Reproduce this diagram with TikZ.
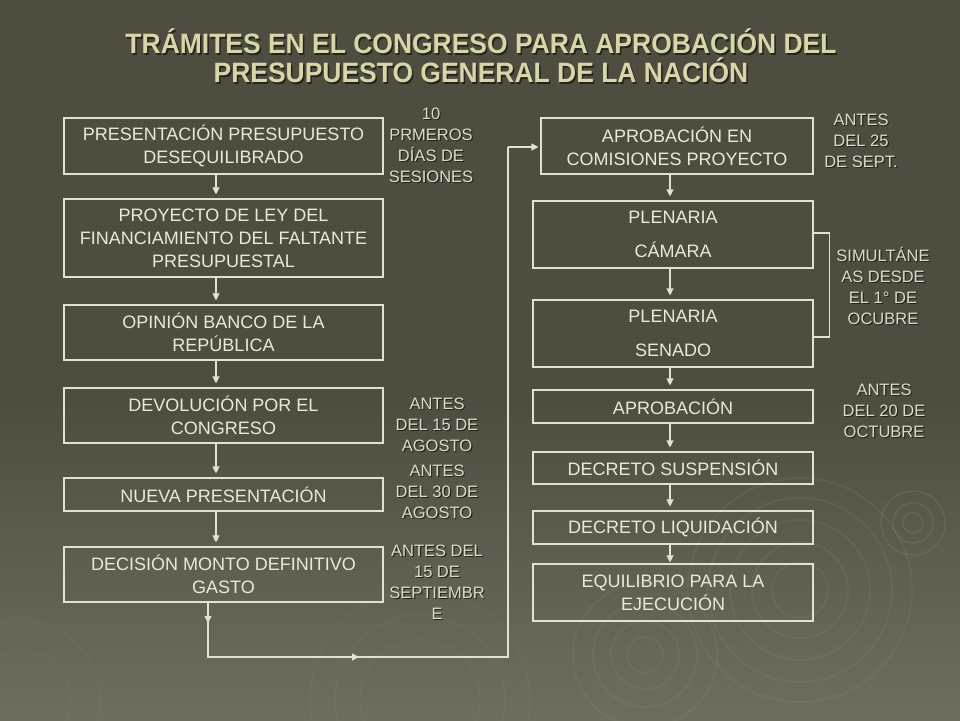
\documentclass[tikz,border=0pt]{standalone}
\usepackage{fontspec}
\setmainfont{Liberation Sans}
\usetikzlibrary{arrows.meta}
\definecolor{bgtop}{HTML}{4F4D40}
\definecolor{bgbot}{HTML}{6E6E60}
\definecolor{linec}{HTML}{E4E1D3}
\definecolor{boxtext}{HTML}{ECE9DB}
\definecolor{notec}{HTML}{DEDBC6}
\definecolor{titlec}{HTML}{D8D5A8}
\definecolor{shadowc}{HTML}{25241C}
\definecolor{ripple}{HTML}{9A9A8A}
\tikzset{
  box/.style={draw=linec, line width=1.1pt, text=boxtext, align=center, inner sep=0pt,
    font=\fontsize{18}{23}\selectfont},
  note/.style={text=notec, align=center, inner sep=0pt, font=\fontsize{16.5}{21}\selectfont},
  notesh/.style={note, text=shadowc, xshift=1.2pt, yshift=-1.2pt},
  conn/.style={draw=linec, line width=1.1pt},
  arr/.style={conn, -{Triangle[width=7pt,length=7pt]}, shorten >=4pt},
  rip/.style={draw=ripple, opacity=0.12, line width=2pt},
  ttl/.style={text=titlec, align=center, inner sep=0pt, font=\bfseries\fontsize{28}{29}\selectfont, xscale=0.945, transform shape},
}
\newcommand{\annot}[3]{%
  \node[notesh] (#2s) at (#1) {#3};
  \node[note] (#2) at (#1) {#3};}
\begin{document}
\begin{tikzpicture}[x=1pt,y=-1pt]
% background
\fill[bgtop] (0,0) rectangle (960,720);
\shade[top color=bgtop, bottom color=bgbot] (0,400) rectangle (960,720);
\begin{scope}
\clip (0,0) rectangle (960,720);
% ripples
\foreach \r in {28,48,70,92,112} \draw[rip] (800,590) circle (\r);
\foreach \r in {18,34,52,72} \draw[rip] (645,655) circle (\r);
\foreach \r in {10,20,32} \draw[rip, line width=1.5pt, opacity=0.18] (913,523) circle (\r);
\foreach \r in {60,85,110} \draw[rip, opacity=0.07] (420,700) circle (\r);
\foreach \r in {50,80} \draw[rip, opacity=0.07] (20,700) circle (\r);
\end{scope}
\useasboundingbox (0,0) rectangle (960,720);
% title
\node[ttl, text=shadowc] (titles) at (482.5,57.5) {TRÁMITES EN EL CONGRESO PARA APROBACIÓN DEL\\PRESUPUESTO GENERAL DE LA NACIÓN};
\node[ttl] (title) at (481,56) {TRÁMITES EN EL CONGRESO PARA APROBACIÓN DEL\\PRESUPUESTO GENERAL DE LA NACIÓN};
% left column
\node[box, minimum width=319pt, minimum height=56pt] (l1) at (223.5,146) {PRESENTACIÓN PRESUPUESTO\\DESEQUILIBRADO};
\node[box, minimum width=319pt, minimum height=78pt] (l2) at (223.5,238) {PROYECTO DE LEY DEL\\FINANCIAMIENTO DEL FALTANTE\\PRESUPUESTAL};
\node[box, minimum width=319pt, minimum height=55pt] (l3) at (223.5,332.5) {OPINIÓN BANCO DE LA\\REPÚBLICA};
\node[box, minimum width=319pt, minimum height=55pt] (l4) at (223.5,415.5) {DEVOLUCIÓN POR EL\\CONGRESO};
\node[box, minimum width=319pt, minimum height=33pt] (l5) at (223.5,494.5) {NUEVA PRESENTACIÓN};
\node[box, minimum width=319pt, minimum height=55pt] (l6) at (223.5,574.5) {DECISIÓN MONTO DEFINITIVO\\GASTO};
% right column
\node[box, minimum width=272pt, minimum height=56pt] (r1) at (677,146) {APROBACIÓN EN\\COMISIONES PROYECTO};
\node[box, minimum width=280pt, minimum height=67pt] (r2) at (673,234.5) {PLENARIA\\[11pt]CÁMARA};
\node[box, minimum width=280pt, minimum height=67pt] (r3) at (673,333.5) {PLENARIA\\[11pt]SENADO};
\node[box, minimum width=280pt, minimum height=33pt] (r4) at (673,406.5) {APROBACIÓN};
\node[box, minimum width=280pt, minimum height=32pt] (r5) at (673,468) {DECRETO SUSPENSIÓN};
\node[box, minimum width=280pt, minimum height=33pt] (r6) at (673,527.5) {DECRETO LIQUIDACIÓN};
\node[box, minimum width=280pt, minimum height=57pt] (r7) at (673,592.5) {EQUILIBRIO PARA LA\\EJECUCIÓN};
% annotations
\annot{431,145}{n1}{10\\PRMEROS\\DÍAS DE\\SESIONES}
\annot{861,141}{n2}{ANTES\\DEL 25\\DE SEPT.}
\annot{883,286}{n3}{SIMULTÁNE\\AS DESDE\\EL 1° DE\\OCUBRE}
\annot{884,411}{n4}{ANTES\\DEL 20 DE\\OCTUBRE}
\annot{437,425}{n5}{ANTES\\DEL 15 DE\\AGOSTO}
\annot{437,492}{n6}{ANTES\\DEL 30 DE\\AGOSTO}
\annot{437,582}{n7}{ANTES DEL\\15 DE\\SEPTIEMBR\\E}
% connectors
\coordinate (ax) at (216,0);
\coordinate (bx) at (670,0);
\draw[arr] (l1.south -| ax) -- (l2.north -| ax);
\draw[arr] (l2.south -| ax) -- (l3.north -| ax);
\draw[arr] (l3.south -| ax) -- (l4.north -| ax);
\draw[arr] (l4.south -| ax) -- (l5.north -| ax);
\draw[arr] (l5.south -| ax) -- (l6.north -| ax);
\draw[arr] (r1.south -| bx) -- (r2.north -| bx);
\draw[arr] (r2.south -| bx) -- (r3.north -| bx);
\draw[arr] (r3.south -| bx) -- (r4.north -| bx);
\draw[arr] (r4.south -| bx) -- (r5.north -| bx);
\draw[arr] (r5.south -| bx) -- (r6.north -| bx);
\draw[arr, shorten >=1pt] (r6.south -| bx) -- (r7.north -| bx);
% long return connector
\coordinate (c1) at (208,657);
\coordinate (c2) at (508,657);
\coordinate (c3) at (508,147);
\coordinate (m1) at (208,623);
\coordinate (m2) at (359,657);
\draw[conn] (l6.south -| c1) -- (c1) -- (c2) -- (c3);
\draw[arr, shorten >=2pt] (c3) -- (r1.west |- c3);
\draw[arr, shorten >=0pt] (l6.south -| c1) -- (m1);
\draw[arr, shorten >=0pt] (c1) -- (m2);
% bracket
\draw[conn] (r2.east |- 0,233) -- ++(16,0) |- (r3.east |- 0,337);
\end{tikzpicture}
\end{document}
